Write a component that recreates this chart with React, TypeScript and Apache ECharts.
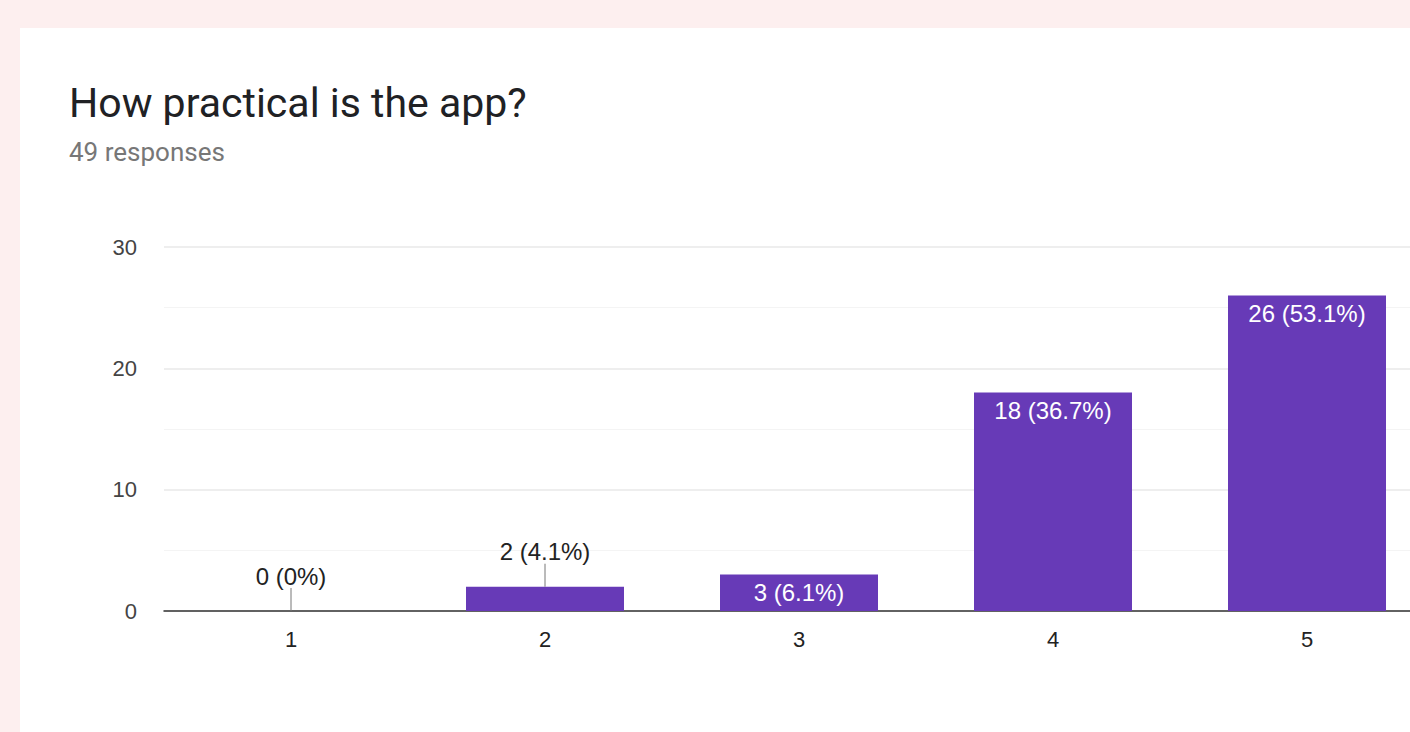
import React, { useEffect, useRef } from "react";
import * as echarts from "echarts";

const categories = ["1", "2", "3", "4", "5"];
const counts = [0, 2, 3, 18, 26];
const yTicks = { min: 0, max: 30, interval: 10 };
const titleText = "How practical is the app?";
const subtitleText = "49 responses";
const insideThreshold = 3;

const total = counts.reduce((a, b) => a + b, 0);
const pct = (v: number) => {
  const p = (v / total) * 100;
  const r = Math.round(p * 10) / 10;
  return v === 0 ? "0%" : `${r.toFixed(1)}%`;
};

export default function App() {
  const ref = useRef<HTMLDivElement>(null);
  useEffect(() => {
    if (!ref.current) return;
    const chart = echarts.init(ref.current, undefined, { renderer: "svg" });
    const font = "'Liberation Sans', Arial, sans-serif";
    chart.setOption({
      animation: false,
      backgroundColor: "#fdefef",
      graphic: [
        {
          type: "rect",
          z: -10,
          shape: { x: 20, y: 28, width: 1440, height: 720 },
          style: { fill: "#ffffff" },
        },
      ],
      title: [
        {
          text: titleText,
          left: 69,
          top: 82,
          padding: 0,
          textStyle: { fontFamily: "Roboto", fontSize: 41, fontWeight: "normal", color: "#202124" },
        },
        {
          text: subtitleText,
          left: 69,
          top: 139,
          padding: 0,
          textStyle: { fontFamily: "Roboto", fontSize: 26, fontWeight: "normal", color: "#777777" },
        },
      ],
      grid: { left: 164, top: 247, bottom: 121, right: 6, containLabel: false },
      xAxis: {
        type: "category",
        data: categories,
        axisLine: { lineStyle: { color: "#333333", width: 1.5 } },
        axisTick: { show: false },
        axisLabel: { fontFamily: font, fontSize: 22, color: "#222222", margin: 17 },
        splitLine: { show: false },
      },
      yAxis: {
        type: "value",
        min: yTicks.min,
        max: yTicks.max,
        interval: yTicks.interval,
        axisLine: { show: false },
        axisTick: { show: false },
        axisLabel: { fontFamily: font, fontSize: 22, color: "#444444", margin: 27 },
        splitLine: { lineStyle: { color: "#e8e8e8", width: 1.5 } },
        minorTick: { show: false, splitNumber: 2 },
        minorSplitLine: { show: true, lineStyle: { color: "#f4f4f4", width: 1 } },
      },
      series: [
        {
          type: "bar",
          barWidth: 158,
          itemStyle: { color: "#673ab7" },
          data: counts.map((v) => {
            const inside = v >= insideThreshold;
            return {
              value: v,
              label: {
                show: true,
                formatter: `${v} (${pct(v)})`,
                position: inside ? "insideTop" : "top",
                distance: inside ? 6 : 23,
                color: inside ? "#ffffff" : "#222222",
                fontFamily: font,
                fontSize: 24,
              },
            };
          }),
        },
        {
          type: "custom",
          z: 5,
          data: counts
            .map((v, i) => [i, v])
            .filter((d) => d[1] < insideThreshold),
          renderItem: (params: any, api: any) => {
            const p = api.coord([api.value(0), api.value(1)]);
            return {
              type: "line",
              shape: { x1: p[0], y1: p[1], x2: p[0], y2: p[1] - 23 },
              style: { stroke: "#777777", lineWidth: 1 },
            };
          },
        },
      ],
    });
    return () => chart.dispose();
  }, []);
  return (
    <div style={{ position: "absolute", left: 0, top: 0, width: 1410, height: 732, overflow: "hidden" }}>
      <div ref={ref} style={{ width: 1440, height: 732 }} />
    </div>
  );
}
